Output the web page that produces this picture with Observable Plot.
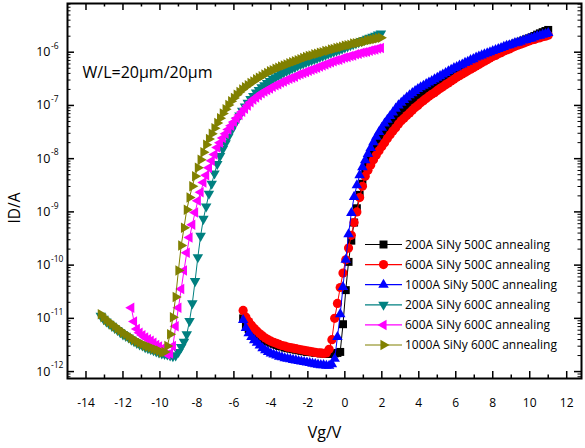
<!DOCTYPE html>
<html><head><meta charset="utf-8">
<script src="https://cdn.jsdelivr.net/npm/d3@7"></script>
<script src="https://cdn.jsdelivr.net/npm/@observablehq/plot@0.6"></script>
<style>body{margin:0;background:#fff;} #chart{width:585px;height:448px;}</style>
</head><body><div id="chart"></div>
<script>
// Gate voltage sweeps (V)
const vg600 = [-13.2,-13.05,-12.9,-12.75,-12.6,-12.45,-12.3,-12.15,-12,-11.85,
-11.7,-11.55,-11.4,-11.25,-11.1,-10.95,-10.8,-10.65,-10.5,-10.35,
-10.2,-10.05,-9.9,-9.75,-9.6,-9.45,-9.3,-9.15,-9,-8.85,
-8.7,-8.55,-8.4,-8.25,-8.1,-7.95,-7.8,-7.65,-7.5,-7.35,
-7.2,-7.05,-6.9,-6.75,-6.6,-6.45,-6.3,-6.15,-6,-5.85,
-5.7,-5.55,-5.4,-5.25,-5.1,-4.95,-4.8,-4.65,-4.5,-4.35,
-4.2,-4.05,-3.9,-3.75,-3.6,-3.45,-3.3,-3.15,-3,-2.85,
-2.7,-2.55,-2.4,-2.25,-2.1,-1.95,-1.8,-1.65,-1.5,-1.35,
-1.2,-1.05,-0.9,-0.75,-0.6,-0.45,-0.3,-0.15,0,0.15,
0.3,0.45,0.6,0.75,0.9,1.05,1.2,1.35,1.5,1.65,
1.8,1.95];
const vg500 = [-5.5,-5.35,-5.2,-5.05,-4.9,-4.75,-4.6,-4.45,-4.3,-4.15,
-4,-3.85,-3.7,-3.55,-3.4,-3.25,-3.1,-2.95,-2.8,-2.65,
-2.5,-2.35,-2.2,-2.05,-1.9,-1.75,-1.6,-1.45,-1.3,-1.15,
-1,-0.85,-0.7,-0.55,-0.4,-0.25,-0.1,0.05,0.2,0.35,
0.5,0.65,0.8,0.95,1.1,1.25,1.4,1.55,1.7,1.85,
2,2.15,2.3,2.45,2.6,2.75,2.9,3.05,3.2,3.35,
3.5,3.65,3.8,3.95,4.1,4.25,4.4,4.55,4.7,4.85,
5,5.15,5.3,5.45,5.6,5.75,5.9,6.05,6.2,6.35,
6.5,6.65,6.8,6.95,7.1,7.25,7.4,7.55,7.7,7.85,
8,8.15,8.3,8.45,8.6,8.75,8.9,9.05,9.2,9.35,
9.5,9.65,9.8,9.95,10.1,10.25,10.4,10.55,10.7,10.85,
11];

// Drain currents (A)
const id200A500C = [1.00e-11,7.41e-12,6.31e-12,5.62e-12,5.13e-12,4.68e-12,4.37e-12,4.07e-12,3.80e-12,3.63e-12,
3.47e-12,3.31e-12,3.16e-12,3.02e-12,2.95e-12,2.82e-12,2.75e-12,2.69e-12,2.63e-12,2.57e-12,
2.51e-12,2.45e-12,2.40e-12,2.34e-12,2.34e-12,2.29e-12,2.24e-12,2.24e-12,2.19e-12,2.19e-12,
2.14e-12,2.14e-12,2.14e-12,2.19e-12,2.24e-12,2.34e-12,7.76e-12,3.39e-11,1.15e-10,2.88e-10,
6.31e-10,1.17e-9,2.09e-9,3.39e-9,5.25e-9,7.41e-9,1.00e-8,1.32e-8,1.66e-8,2.09e-8,
2.57e-8,3.09e-8,3.63e-8,4.27e-8,5.01e-8,5.89e-8,6.76e-8,7.76e-8,8.91e-8,1.00e-7,
1.12e-7,1.26e-7,1.38e-7,1.51e-7,1.66e-7,1.82e-7,2.00e-7,2.14e-7,2.34e-7,2.51e-7,
2.69e-7,2.95e-7,3.16e-7,3.39e-7,3.63e-7,3.89e-7,4.17e-7,4.47e-7,4.79e-7,5.01e-7,
5.37e-7,5.75e-7,6.17e-7,6.46e-7,6.92e-7,7.24e-7,7.76e-7,8.13e-7,8.71e-7,9.12e-7,
9.77e-7,1.02e-6,1.07e-6,1.15e-6,1.20e-6,1.26e-6,1.32e-6,1.38e-6,1.45e-6,1.51e-6,
1.58e-6,1.66e-6,1.74e-6,1.82e-6,1.91e-6,2.02e-6,2.14e-6,2.26e-6,2.38e-6,2.50e-6,
2.62e-6];
const id600A500C = [1.41e-11,1.05e-11,8.71e-12,7.41e-12,6.46e-12,5.75e-12,5.13e-12,4.68e-12,4.27e-12,3.98e-12,
3.72e-12,3.55e-12,3.39e-12,3.24e-12,3.09e-12,3.02e-12,2.88e-12,2.82e-12,2.75e-12,2.69e-12,
2.63e-12,2.57e-12,2.51e-12,2.45e-12,2.40e-12,2.34e-12,2.29e-12,2.24e-12,2.24e-12,2.19e-12,
2.24e-12,2.63e-12,3.98e-12,1.00e-11,1.91e-11,3.80e-11,7.08e-11,1.26e-10,2.09e-10,3.63e-10,
6.31e-10,1.00e-9,1.86e-9,3.02e-9,4.68e-9,6.03e-9,7.59e-9,9.55e-9,1.17e-8,1.41e-8,
1.70e-8,2.00e-8,2.40e-8,2.82e-8,3.31e-8,3.80e-8,4.47e-8,5.13e-8,5.75e-8,6.46e-8,
7.24e-8,8.13e-8,9.12e-8,1.00e-7,1.12e-7,1.23e-7,1.35e-7,1.48e-7,1.62e-7,1.74e-7,
1.91e-7,2.09e-7,2.24e-7,2.45e-7,2.63e-7,2.88e-7,3.09e-7,3.39e-7,3.63e-7,3.89e-7,
4.17e-7,4.47e-7,4.79e-7,5.13e-7,5.50e-7,5.89e-7,6.31e-7,6.76e-7,7.24e-7,7.76e-7,
8.32e-7,8.71e-7,9.33e-7,9.77e-7,1.05e-6,1.10e-6,1.15e-6,1.23e-6,1.29e-6,1.35e-6,
1.41e-6,1.48e-6,1.55e-6,1.62e-6,1.70e-6,1.74e-6,1.82e-6,1.86e-6,1.95e-6,2.00e-6,
2.09e-6];
const id1000A500C = [9.33e-12,6.61e-12,5.25e-12,4.47e-12,3.89e-12,3.47e-12,3.09e-12,2.75e-12,2.51e-12,2.34e-12,
2.19e-12,2.09e-12,2.00e-12,1.91e-12,1.86e-12,1.78e-12,1.74e-12,1.70e-12,1.66e-12,1.62e-12,
1.58e-12,1.55e-12,1.51e-12,1.48e-12,1.45e-12,1.41e-12,1.38e-12,1.35e-12,1.32e-12,1.32e-12,
1.29e-12,1.29e-12,1.38e-12,1.74e-12,4.47e-12,1.20e-11,3.89e-11,1.26e-10,3.80e-10,9.55e-10,
1.91e-9,3.16e-9,4.90e-9,6.92e-9,9.33e-9,1.23e-8,1.58e-8,2.04e-8,2.57e-8,3.16e-8,
3.80e-8,4.57e-8,5.37e-8,6.31e-8,7.41e-8,8.71e-8,1.00e-7,1.12e-7,1.26e-7,1.41e-7,
1.55e-7,1.70e-7,1.86e-7,2.04e-7,2.19e-7,2.34e-7,2.51e-7,2.69e-7,2.88e-7,3.09e-7,
3.31e-7,3.55e-7,3.80e-7,4.07e-7,4.37e-7,4.68e-7,5.01e-7,5.25e-7,5.62e-7,5.89e-7,
6.31e-7,6.61e-7,7.08e-7,7.41e-7,7.94e-7,8.32e-7,8.71e-7,9.12e-7,9.55e-7,1.00e-6,
1.05e-6,1.10e-6,1.15e-6,1.20e-6,1.26e-6,1.32e-6,1.35e-6,1.41e-6,1.48e-6,1.51e-6,
1.58e-6,1.66e-6,1.70e-6,1.78e-6,1.82e-6,1.91e-6,2.00e-6,2.04e-6,2.14e-6,2.19e-6,
2.29e-6];
const id200A600C = [1.12e-11,9.77e-12,8.71e-12,7.94e-12,7.24e-12,6.61e-12,6.03e-12,5.50e-12,5.01e-12,4.68e-12,
4.37e-12,3.98e-12,3.72e-12,3.47e-12,3.24e-12,3.09e-12,2.88e-12,2.75e-12,2.63e-12,2.51e-12,
2.40e-12,2.29e-12,2.19e-12,2.14e-12,2.09e-12,2.00e-12,1.95e-12,2.00e-12,2.34e-12,2.88e-12,
3.63e-12,5.01e-12,8.91e-12,1.91e-11,5.01e-11,1.41e-10,3.55e-10,7.41e-10,1.26e-9,2.19e-9,
3.39e-9,5.25e-9,7.94e-9,1.12e-8,1.51e-8,1.95e-8,2.57e-8,3.31e-8,4.17e-8,5.25e-8,
6.46e-8,7.94e-8,9.55e-8,1.12e-7,1.32e-7,1.51e-7,1.74e-7,1.95e-7,2.19e-7,2.40e-7,
2.63e-7,2.88e-7,3.16e-7,3.39e-7,3.63e-7,3.89e-7,4.17e-7,4.47e-7,4.68e-7,5.01e-7,
5.25e-7,5.62e-7,5.89e-7,6.17e-7,6.46e-7,6.76e-7,7.08e-7,7.41e-7,7.76e-7,8.13e-7,
8.51e-7,8.91e-7,9.33e-7,9.77e-7,1.02e-6,1.07e-6,1.12e-6,1.17e-6,1.23e-6,1.29e-6,
1.35e-6,1.41e-6,1.48e-6,1.55e-6,1.62e-6,1.70e-6,1.78e-6,1.86e-6,1.95e-6,2.04e-6,
2.14e-6,2.24e-6];
const id600A600C = [1.58e-11,8.71e-12,6.31e-12,5.37e-12,4.79e-12,4.37e-12,4.07e-12,3.80e-12,3.47e-12,
3.16e-12,2.95e-12,2.69e-12,2.51e-12,2.09e-12,2.19e-12,3.02e-12,7.08e-12,1.58e-11,3.55e-11,
7.94e-11,1.70e-10,3.31e-10,5.75e-10,9.77e-10,1.62e-9,2.34e-9,3.55e-9,4.90e-9,6.76e-9,
9.12e-9,1.20e-8,1.62e-8,2.00e-8,2.45e-8,2.95e-8,3.55e-8,4.17e-8,4.90e-8,5.75e-8,
6.61e-8,7.59e-8,8.71e-8,1.00e-7,1.15e-7,1.29e-7,1.41e-7,1.55e-7,1.70e-7,1.82e-7,
1.95e-7,2.09e-7,2.24e-7,2.40e-7,2.51e-7,2.69e-7,2.82e-7,3.02e-7,3.16e-7,3.31e-7,
3.47e-7,3.72e-7,3.89e-7,4.07e-7,4.27e-7,4.47e-7,4.68e-7,4.90e-7,5.13e-7,5.37e-7,
5.62e-7,5.89e-7,6.17e-7,6.46e-7,6.76e-7,7.08e-7,7.24e-7,7.59e-7,7.94e-7,8.13e-7,
8.51e-7,8.71e-7,9.12e-7,9.33e-7,9.77e-7,1.00e-6,1.02e-6,1.07e-6,1.10e-6,1.12e-6,
1.17e-6,1.20e-6];
const id1000A600C = [1.20e-11,1.05e-11,9.33e-12,8.51e-12,7.76e-12,7.08e-12,6.46e-12,5.89e-12,5.37e-12,5.01e-12,
4.68e-12,4.27e-12,3.98e-12,3.72e-12,3.47e-12,3.31e-12,3.09e-12,2.95e-12,2.82e-12,2.69e-12,
2.57e-12,2.45e-12,2.29e-12,2.34e-12,3.02e-12,5.01e-12,1.05e-11,2.51e-11,7.94e-11,2.34e-10,
5.01e-10,1.10e-9,1.86e-9,3.02e-9,4.68e-9,6.76e-9,9.55e-9,1.32e-8,1.82e-8,2.34e-8,
2.95e-8,3.72e-8,4.68e-8,5.75e-8,7.08e-8,8.51e-8,1.02e-7,1.20e-7,1.38e-7,1.58e-7,
1.78e-7,2.00e-7,2.19e-7,2.40e-7,2.63e-7,2.82e-7,3.09e-7,3.31e-7,3.55e-7,3.80e-7,
4.07e-7,4.37e-7,4.57e-7,4.90e-7,5.13e-7,5.37e-7,5.62e-7,5.89e-7,6.17e-7,6.46e-7,
6.76e-7,7.08e-7,7.41e-7,7.76e-7,8.13e-7,8.51e-7,8.71e-7,9.12e-7,9.33e-7,9.77e-7,
1.00e-6,1.05e-6,1.07e-6,1.12e-6,1.15e-6,1.20e-6,1.23e-6,1.26e-6,1.32e-6,1.35e-6,
1.38e-6,1.45e-6,1.48e-6,1.51e-6,1.55e-6,1.58e-6,1.66e-6,1.70e-6,1.74e-6,1.78e-6,
1.82e-6,1.86e-6];

const seriesNames = ["200A SiNy 500C annealing","600A SiNy 500C annealing","1000A SiNy 500C annealing",
  "200A SiNy 600C annealing","600A SiNy 600C annealing","1000A SiNy 600C annealing"];
const seriesColors = ["#000000","#ff0000","#0000ff","#008080","#ff00ff","#808000"];

// Axis ticks
const xTicks = [-14,-12,-10,-8,-6,-4,-2,0,2,4,6,8,10,12];
const xMinorTicks = [-13,-11,-9,-7,-5,-3,-1,1,3,5,7,9,11];
const yTicks = [1e-12,1e-11,1e-10,1e-9,1e-8,1e-7,1e-6];
const yTickExponents = ["-12","-11","-10","-9","-8","-7","-6"];
const yMinorDecades = [1e-13,1e-12,1e-11,1e-10,1e-9,1e-8,1e-7,1e-6];
const yMinorSteps = [2,3,4,5,6,7,8,9];

// Custom triangle symbols
const s3 = Math.sqrt(3);
const triUp = {draw(c, size){ const y = -Math.sqrt(size/(s3*3)); c.moveTo(0,y*2); c.lineTo(-s3*y,-y); c.lineTo(s3*y,-y); c.closePath(); }};
const triDown = {draw(c, size){ const y = Math.sqrt(size/(s3*3)); c.moveTo(0,y*2); c.lineTo(-s3*y,-y); c.lineTo(s3*y,-y); c.closePath(); }};
const triLeft = {draw(c, size){ const x = -Math.sqrt(size/(s3*3)); c.moveTo(x*2,0); c.lineTo(-x,-s3*x); c.lineTo(-x,s3*x); c.closePath(); }};
const triRight = {draw(c, size){ const x = Math.sqrt(size/(s3*3)); c.moveTo(x*2,0); c.lineTo(-x,-s3*x); c.lineTo(-x,s3*x); c.closePath(); }};
const symbols = ["square","circle",triUp,triDown,triLeft,triRight];
const radii = [4.5,4.6,3.9,3.9,3.9,3.9];

const currents = [id200A500C,id600A500C,id1000A500C,id200A600C,id600A600C,id1000A600C];
const voltages = [vg500,vg500,vg500,vg600,vg600.slice(vg600.length-id600A600C.length),vg600];
const series = currents.map((ids,k)=>({
  name: seriesNames[k], color: seriesColors[k], symbol: symbols[k], r: radii[k],
  rows: ids.map((id,i)=>({vg: voltages[k][i], id}))
}));

const W=585,H=448,mL=67,mR=4,mT=3,mB=70;
const innerW=W-mL-mR, innerH=H-mT-mB;
const yMinor = yMinorDecades.flatMap(d=>yMinorSteps.map(s=>s*d));
const yDomain=[Math.pow(10,-12.13),Math.pow(10,-5.085)];
const yMinorIn = yMinor.filter(v=>v>=yDomain[0]&&v<=yDomain[1]);
const FONT = "'Open Sans', 'DejaVu Sans', sans-serif";

const marks = [];
series.forEach(s=>{
  marks.push(Plot.line(s.rows,{x:"vg",y:"id",stroke:s.color,strokeWidth:1}));
  marks.push(Plot.dot(s.rows,{x:"vg",y:"id",symbol:s.symbol,r:s.r,fill:s.color,stroke:"none"}));
});
// ticks (inward, mirrored)
marks.push(
  Plot.ruleX(xTicks,{x:d=>d,insetTop:innerH-7,stroke:"black",strokeWidth:1.5}),
  Plot.ruleX(xTicks,{x:d=>d,insetBottom:innerH-7,stroke:"black",strokeWidth:1.5}),
  Plot.ruleX(xMinorTicks,{x:d=>d,insetTop:innerH-3.5,stroke:"black",strokeWidth:1.5}),
  Plot.ruleX(xMinorTicks,{x:d=>d,insetBottom:innerH-3.5,stroke:"black",strokeWidth:1.5}),
  Plot.ruleY(yTicks,{y:d=>d,insetRight:innerW-7,stroke:"black",strokeWidth:1.5}),
  Plot.ruleY(yTicks,{y:d=>d,insetLeft:innerW-7,stroke:"black",strokeWidth:1.5}),
  Plot.ruleY(yMinorIn,{y:d=>d,insetRight:innerW-3.5,stroke:"black",strokeWidth:1}),
  Plot.ruleY(yMinorIn,{y:d=>d,insetLeft:innerW-3.5,stroke:"black",strokeWidth:1}),
  Plot.frame({stroke:"black",strokeWidth:2}),
  Plot.text(xTicks,{x:d=>d,text:d=>String(d),frameAnchor:"bottom",dy:25,lineAnchor:"middle",textAnchor:"middle",fontSize:12,fill:"black"}),
  Plot.text(yTicks,{y:d=>d,text:()=> "10",frameAnchor:"left",dx:-17,lineAnchor:"middle",textAnchor:"end",fontSize:12.5,fill:"black"}),
  Plot.text(yTicks,{y:d=>d,text:(d,i)=>yTickExponents[i],frameAnchor:"left",dx:-16.5,dy:-6,lineAnchor:"middle",textAnchor:"start",fontSize:8.5,fill:"black"}),
  Plot.text(["Vg/V"],{frameAnchor:"bottom",dy:54,lineAnchor:"middle",textAnchor:"middle",fontSize:16,fill:"black"}),
  Plot.text(["ID/A"],{frameAnchor:"left",dx:-52,dy:17,rotate:-90,lineAnchor:"middle",textAnchor:"middle",fontSize:15.5,fill:"black"}),
  Plot.text(["W/L=20\u03bcm/20\u03bcm"],{frameAnchor:"top-left",dx:15,dy:69,lineAnchor:"middle",textAnchor:"start",fontSize:16,fill:"black"})
);

const svg = Plot.plot({
  width:W,height:H,marginLeft:mL,marginRight:mR,marginTop:mT,marginBottom:mB,
  style:{fontFamily:FONT,background:"white",color:"black",overflow:"visible"},
  x:{type:"linear",domain:[-15,12.8],axis:null},
  y:{type:"log",domain:yDomain,axis:null},
  marks
});

// legend
const lg = d3.select(svg).append("g").attr("font-family",FONT).attr("font-size",12).attr("text-anchor","start");
series.forEach((s,i)=>{
  const y = 244.5 + i*20.1;
  lg.append("line").attr("x1",365).attr("x2",402).attr("y1",y).attr("y2",y).attr("stroke",s.color).attr("stroke-width",1.2);
  lg.append("path").attr("d",d3.symbol(typeof s.symbol==="string"?(s.symbol==="square"?d3.symbolSquare:d3.symbolCircle):s.symbol, s.r*s.r*Math.PI)())
    .attr("transform",`translate(383.5,${y})`).attr("fill",s.color);
  lg.append("text").attr("x",405).attr("y",y).attr("dy","0.35em").attr("text-anchor","start").attr("fill","black").text(s.name);
});

document.getElementById("chart").appendChild(svg);
</script>
</body></html>
